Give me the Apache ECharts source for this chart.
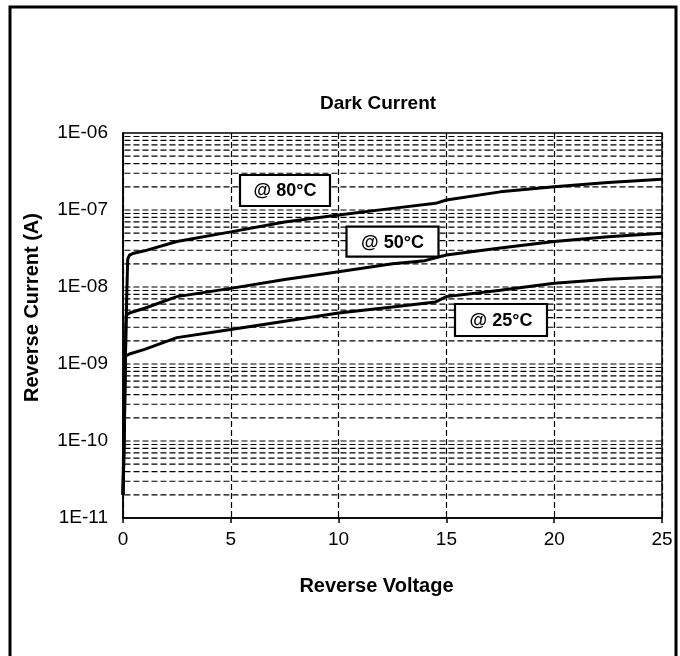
<!DOCTYPE html>
<html>
<head>
<meta charset="utf-8">
<script src="https://cdn.jsdelivr.net/npm/echarts@6/dist/echarts.min.js"></script>
<style>
html,body{margin:0;padding:0;background:#fff;}
#chart{width:680px;height:656px;}
</style>
</head>
<body>
<div id="chart"></div>
<script>
// ---- data ----
const chartTitle = 'Dark Current';
const xAxisName = 'Reverse Voltage';
const yAxisName = 'Reverse Current (A)';
const xTicks = [0, 5, 10, 15, 20, 25];
const yTicks = ['1E-11', '1E-10', '1E-09', '1E-08', '1E-07', '1E-06'];

const seriesNames = ['@ 25°C', '@ 50°C', '@ 80°C'];

const voltage25 = [0, 0.03, 0.06, 0.08, 0.1, 0.3, 1, 2.5, 5, 7.5, 10, 12.5, 14.5, 15, 17.5, 20, 22.5, 25];
const current25 = [2e-11, 1e-10, 5e-10, 1.1e-9, 1.25e-9, 1.35e-9, 1.55e-9, 2.2e-9, 2.8e-9, 3.6e-9, 4.6e-9, 5.5e-9, 6.4e-9, 7.5e-9, 9.1e-9, 1.12e-8, 1.26e-8, 1.36e-8];

const voltage50 = [0, 0.05, 0.1, 0.13, 0.15, 0.3, 1, 2.5, 5, 7.5, 10, 12.5, 14, 14.5, 15, 17.5, 20, 22.5, 25];
const current50 = [2e-11, 8e-11, 6e-10, 3e-9, 4.3e-9, 4.6e-9, 5.3e-9, 7.5e-9, 9.6e-9, 1.25e-8, 1.58e-8, 2.0e-8, 2.2e-8, 2.4e-8, 2.6e-8, 3.2e-8, 3.9e-8, 4.5e-8, 5.0e-8];

const voltage80 = [0, 0.05, 0.1, 0.15, 0.2, 0.22, 0.3, 0.5, 1, 2.5, 5, 7.5, 10, 12.5, 14.5, 15, 17.5, 20, 22.5, 25];
const current80 = [2e-11, 1e-10, 8e-10, 4e-9, 1.5e-8, 2.3e-8, 2.6e-8, 2.75e-8, 2.95e-8, 3.9e-8, 5.2e-8, 7.0e-8, 8.6e-8, 1.05e-7, 1.22e-7, 1.35e-7, 1.72e-7, 2.0e-7, 2.27e-7, 2.5e-7];

// gridline mantissas / decades (log grid 1..9 per decade)
const gridMantissas = [1, 2, 3, 4, 5, 6, 7, 8, 9];
const gridDecades = [-11, -10, -9, -8, -7];

// ---- build ----
const zip = (xs, ys) => xs.map((x, i) => [x, ys[i]]);
const gridValues = [];
gridDecades.forEach(e => gridMantissas.forEach(m => {
  const v = Number((m * Math.pow(10, e)).toPrecision(3));
  if (v > 1e-11) gridValues.push(v);
}));
const xMin = xTicks[0], xMax = xTicks[xTicks.length - 1];
const tickOverhang = 0.35; // gridlines poke out left of the y axis like ticks
const gridData = [];
gridValues.forEach(v => {
  gridData.push([xMin - tickOverhang, v], [xMax, v], [xMax, '-']);
});

const FONT = '"Liberation Sans", Arial, Helvetica, sans-serif';
const chart = echarts.init(document.getElementById('chart'), null, {renderer: 'canvas'});

function labelBox(text, cx, cy, w, h) {
  return {
    type: 'group', x: cx, y: cy, z: 100, zlevel: 1,
    children: [
      {type: 'rect', z: 100, zlevel: 1, shape: {x: -w / 2, y: -h / 2, width: w, height: h},
       style: {fill: '#fff', stroke: '#000', lineWidth: 2.2}},
      {type: 'text', z: 101, zlevel: 1, style: {text: text, x: 0, y: 1, align: 'center', verticalAlign: 'middle',
       font: 'bold 18px ' + FONT, fill: '#000'}}
    ]
  };
}

const lineStyle = {color: '#000', width: 3};
const curve = (name, xs, ys) => ({
  name, type: 'line', data: zip(xs, ys), showSymbol: false, symbol: 'none',
  lineStyle, z: 5
});

chart.setOption({
  animation: false,
  backgroundColor: '#fff',
  title: {
    text: chartTitle,
    left: 373, top: 89, textAlign: 'center',
    textStyle: {fontFamily: FONT, fontWeight: 'bold', fontSize: 19, color: '#000'}
  },
  grid: {left: 123, right: 18, top: 133, bottom: 138, show: true,
         borderColor: '#000', borderWidth: 1.5, backgroundColor: 'transparent'},
  xAxis: {
    type: 'value', min: 0, max: 25, interval: 5,
    name: xAxisName, nameLocation: 'middle', nameGap: 58,
    nameTextStyle: {fontFamily: FONT, fontWeight: 'bold', fontSize: 20, color: '#000', padding: [0, 32, 0, 0]},
    axisLine: {show: true, lineStyle: {color: '#000', width: 1.5}},
    axisTick: {show: true, length: 5, lineStyle: {color: '#000', width: 1.5}},
    axisLabel: {fontFamily: FONT, fontSize: 19, color: '#000', margin: 12,
                formatter: v => xTicks.includes(v) ? String(v) : ''},
    splitLine: {show: true, lineStyle: {color: '#000', width: 1.2, type: [6, 3]}}
  },
  yAxis: {
    type: 'log', logBase: 10, min: 1e-11, max: 1e-6,
    name: yAxisName, nameLocation: 'middle', nameGap: 81, nameRotate: 90,
    nameTextStyle: {fontFamily: FONT, fontWeight: 'bold', fontSize: 20, color: '#000', padding: [0, 0, 0, 36]},
    axisLine: {show: true, lineStyle: {color: '#000', width: 1.5}},
    axisTick: {show: false},
    axisLabel: {fontFamily: FONT, fontSize: 19, color: '#000', margin: 15,
                formatter: v => {
                  const e = Math.round(Math.log10(v));
                  const idx = e + 11;
                  return yTicks[idx] !== undefined ? yTicks[idx] : '';
                }},
    splitLine: {show: false}
  },
  series: [
    {
      name: 'grid', type: 'line', data: gridData, silent: true, z: 1, clip: false,
      showSymbol: false, symbol: 'none', connectNulls: false,
      lineStyle: {color: '#000', width: 1.2, type: [6, 3]},
      emphasis: {disabled: true}, tooltip: {show: false}
    },
    curve(seriesNames[0], voltage25, current25),
    curve(seriesNames[1], voltage50, current50),
    curve(seriesNames[2], voltage80, current80)
  ],
  graphic: [
    {type: 'polyline', z: 100, shape: {points: [[10, 670], [10, 7], [676, 7], [676, 670]]},
     style: {fill: null, stroke: '#000', lineWidth: 3}},
    labelBox(seriesNames[2], 285, 190.5, 90, 31),
    labelBox(seriesNames[1], 392.5, 241.7, 92, 30),
    labelBox(seriesNames[0], 501, 320, 92, 32)
  ]
});
</script>
</body>
</html>
